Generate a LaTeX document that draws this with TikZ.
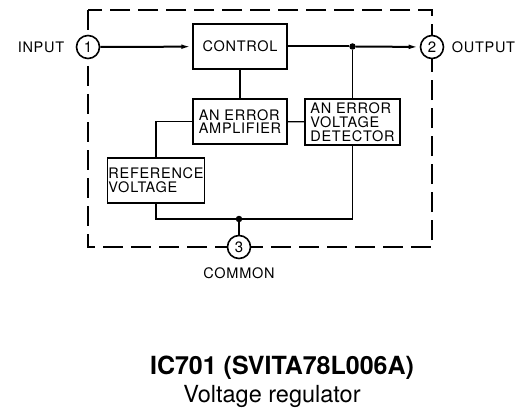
\documentclass[tikz,border=0pt]{standalone}
\usepackage{fontspec}
\usepackage{tikz}
\usetikzlibrary{arrows.meta,positioning}
\newfontfamily\helv{TeX Gyre Heros}
\newfontfamily\helvwide[LetterSpace=5]{TeX Gyre Heros}
\newcommand{\blockfont}{\helvwide\fontsize{14.5}{13.8}\selectfont}
\tikzset{
  blockbox/.style={draw, line width=1.3pt, align=left, font=\blockfont, inner sep=1pt, minimum width=94pt, minimum height=45pt},
  pinnode/.style={draw, circle, line width=1.6pt, fill=white, minimum size=23pt, inner sep=0pt, font=\helv\fontsize{15}{15}\selectfont},
  wire/.style={line width=1.3pt},
  mainwire/.style={line width=2pt},
  arrow/.style={-{Latex[length=11pt,width=4.5pt]}, mainwire},
  border/.style={line width=2.5pt, dash pattern=on 20pt off 8pt},
  junction/.style={circle, fill, inner sep=0pt, minimum size=6.5pt},
  pinlabel/.style={font=\blockfont}
}
\begin{document}
\begin{tikzpicture}[x=1pt, y=-1pt]
  \useasboundingbox (0,0) rectangle (521,409);

  % package outline
  \draw[border] (88,10) rectangle (432,247);

  % blocks
  \node[blockbox, align=center] (control) at (240,46.5) {CONTROL};
  \node[blockbox] (amp) at (240,121.5) {AN ERROR\\AMPLIFIER};
  \node[blockbox, minimum width=95pt, minimum height=46pt] (det) at (352.5,122) {AN ERROR\\VOLTAGE\\DETECTOR};
  \node[blockbox, minimum width=88pt] (ref) at (156,180.5) {REFERENCE\\VOLTAGE};

  % pins
  \node[pinnode] (pin1) at (88,47) {1};
  \node[pinnode] (pin2) at (432,47) {2};
  \node[pinnode] (pin3) at (239,247) {3};
  \node[pinlabel, left=8pt of pin1] (inlbl) {INPUT};
  \node[pinlabel, right=4pt of pin2] (outlbl) {OUTPUT};
  \node[pinlabel, below=5pt of pin3] (comlbl) {COMMON};

  % junctions
  \node[junction] (jout) at (det.north |- control) {};
  \node[junction] (jcom) at (pin3 |- 0,219) {};

  % wiring
  \draw[arrow] (pin1) -- (control);
  \draw[mainwire] (control) -- (jout);
  \draw[arrow] (jout) -- (pin2);
  \draw[wire] (control) -- (amp);
  \draw[wire] (jout) -- (det);
  \draw[wire] (amp) -- (det);
  \draw[wire] (amp.west) -| (ref.north);
  \draw[wire] (ref.south) |- (jcom) -| (det.south);
  \draw[wire] (jcom) -- (pin3);

  % caption
  \node[font=\helv\bfseries\fontsize{25}{28}\selectfont] (title) at (282,368) {IC701 (SVITA78L006A)};
  \node[font=\helv\fontsize{23.5}{28}\selectfont] (subtitle) at (272,396) {Voltage regulator};
\end{tikzpicture}
\end{document}
